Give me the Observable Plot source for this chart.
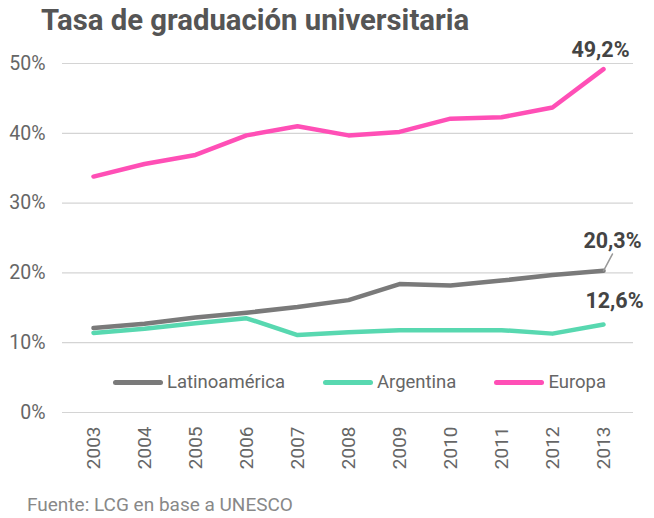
<!DOCTYPE html>
<html><head><meta charset="utf-8">
<script src="https://cdn.jsdelivr.net/npm/d3@7"></script>
<script src="https://cdn.jsdelivr.net/npm/@observablehq/plot@0.6"></script>
<style>
body{margin:0;background:#fff;font-family:Roboto,sans-serif;}
#wrap{position:relative;width:654px;height:518px;overflow:hidden;}
#title{position:absolute;left:41px;top:3px;font-size:29.3px;font-weight:700;color:#555;white-space:nowrap;line-height:34px;}
#chart{position:absolute;left:0;top:30px;}
#legend{position:absolute;top:371px;left:113px;display:flex;align-items:center;font-size:18.5px;color:#666;}
.item{display:flex;align-items:center;margin-right:38px;}
.sw{display:inline-block;width:50px;height:5px;border-radius:3px;margin-right:4px;}
#caption{position:absolute;left:27px;top:493px;font-size:19px;color:#888;white-space:nowrap;}
</style></head>
<body>
<div id="wrap">
<div id="title"></div>
<div id="chart"></div>
<div id="legend"></div>
<div id="caption"></div>
</div>
<script>
const title = "Tasa de graduación universitaria";
const caption = "Fuente: LCG en base a UNESCO";
const years = ["2003","2004","2005","2006","2007","2008","2009","2010","2011","2012","2013"];
const seriesNames = ["Latinoamérica","Argentina","Europa"];
const seriesColors = ["#7a7a7a","#58d8b0","#ff4fb6"];
const latam     = [12.1,12.7,13.6,14.3,15.1,16.1,18.4,18.2,18.9,19.7,20.3];
const argentina = [11.4,12.0,12.8,13.5,11.1,11.5,11.8,11.8,11.8,11.3,12.6];
const europa    = [33.8,35.6,36.9,39.7,41.0,39.7,40.2,42.1,42.3,43.7,49.2];
const yTicks = [0,10,20,30,40,50];

document.getElementById("title").textContent = title;
document.getElementById("caption").textContent = caption;

const seriesValues = {"Latinoamérica": latam, "Argentina": argentina, "Europa": europa};
const rows = seriesNames.flatMap(s => years.map((y,i) => ({series:s, year:y, value:seriesValues[s][i]})));
const fmt = v => v.toFixed(1).replace(".", ",") + "%";
const last = s => [{year: years[years.length-1], value: seriesValues[s][years.length-1], label: fmt(seriesValues[s][years.length-1])}];

const leaderShape = {draw(ctx, l){ ctx.moveTo(0,0); ctx.lineTo(0,-l); }};

const drawOrder = ["Argentina","Latinoamérica","Europa"];
const lineMarks = drawOrder.map(s => Plot.line(rows.filter(r => r.series === s), {
  x:"year", y:"value", stroke: seriesColors[seriesNames.indexOf(s)], strokeWidth:4.5,
  strokeLinejoin:"round", strokeLinecap:"round"
}));

const chart = Plot.plot({
  width:654, height:445,
  marginLeft:62, marginRight:21, marginTop:33, marginBottom:63,
  style:{fontFamily:"Roboto, sans-serif", fontSize:"19px", color:"#666", background:"transparent", overflow:"visible"},
  x:{type:"point", domain:years, padding:0.5, label:null},
  y:{domain:[0,50], label:null},
  marks:[
    Plot.ruleY(yTicks, {stroke:"#d4d4d4", strokeWidth:1.2}),
    Plot.axisY({ticks:yTicks, tickFormat:d => d + "%", tickSize:0, tickPadding:17, label:null, fill:"#666", fontSize:19.5}),
    Plot.axisX({tickRotate:-90, tickSize:0, tickPadding:14, label:null, fill:"#666", fontSize:19}),
    ...lineMarks,
    Plot.vector(last("Latinoamérica"), {x:"year", y:"value", length:19, rotate:28, anchor:"start", shape:leaderShape, stroke:"#999", strokeWidth:1.5}),
    Plot.text(last("Europa"), {x:"year", y:"value", text:"label", dx:-3, dy:-19, fontSize:21.5, fontWeight:700, fill:"#444"}),
    Plot.text(last("Latinoamérica"), {x:"year", y:"value", text:"label", dx:9, dy:-30, fontSize:21.5, fontWeight:700, fill:"#444"}),
    Plot.text(last("Argentina"), {x:"year", y:"value", text:"label", dx:11, dy:-23, fontSize:21.5, fontWeight:700, fill:"#444"})
  ]
});
document.getElementById("chart").appendChild(chart);

const legend = document.getElementById("legend");
seriesNames.forEach((s,i) => {
  const it = document.createElement("div"); it.className = "item";
  const sw = document.createElement("span"); sw.className = "sw"; sw.style.background = seriesColors[i];
  const lb = document.createElement("span"); lb.textContent = s;
  it.appendChild(sw); it.appendChild(lb); legend.appendChild(it);
});
</script>
</body></html>
